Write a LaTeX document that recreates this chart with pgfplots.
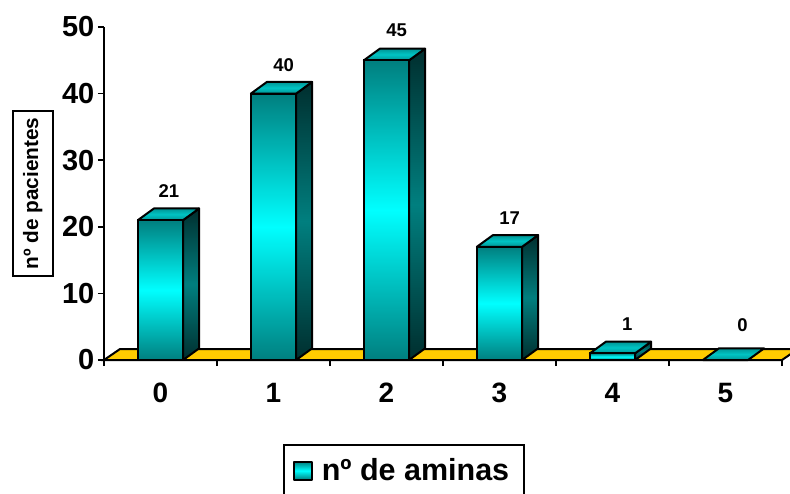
\documentclass[border=0pt]{standalone}
\usepackage{fontspec}
\setmainfont{Liberation Sans}
\usepackage{pgfplots}
\usepackage{pgfplotstable}
\pgfplotsset{compat=1.18}
\definecolor{barteal}{HTML}{007F7F}
\definecolor{barcyan}{HTML}{00FFFF}
\definecolor{bardark}{HTML}{002E2E}
\definecolor{bartopedge}{HTML}{009494}
\definecolor{bartopmid}{HTML}{00C4C4}
\definecolor{floorgold}{HTML}{FFCC00}

% Value labels: horizontal place, height of the text, value shown
\pgfplotstableread{
x     ly     v
0.075 25.4   21
1.09  44.3   40
2.09  49.5   45
3.09  21.3   17
4.13  5.4    1
5.15  5.25   0
}\labeltable

% Depth of the oblique projection, in axis units
\def\ddx{0.1416}
\def\ddy{1.75}

% One box: right side, top face and front face for category #1 with value #2
\newcommand{\boxbar}[2]{%
  \pgfmathsetmacro{\xl}{#1-0.2}%
  \pgfmathsetmacro{\xr}{#1+0.2}%
  \pgfmathsetmacro{\xrb}{\xr+\ddx}%
  \pgfmathsetmacro{\xlb}{\xl+\ddx}%
  \pgfmathsetmacro{\vb}{#2+\ddy}%
  \ifdim #2pt>0pt
    \addplot[draw=black, line width=2pt, line join=round,
      top color=bardark, bottom color=bardark, middle color=barteal]
      coordinates {(\xr,0) (\xrb,\ddy) (\xrb,\vb) (\xr,#2)} --cycle;
  \fi
  \addplot[draw=black, line width=2pt, line join=round,
      top color=bartopedge, bottom color=bartopedge, middle color=bartopmid]
    coordinates {(\xl,#2) (\xlb,\vb) (\xrb,\vb) (\xr,#2)} --cycle;
  \ifdim #2pt>0pt
    \addplot[ybar, bar width=0.4, draw=black, line width=2pt,
      top color=barteal, bottom color=barteal, middle color=barcyan]
      coordinates {(#1,#2)};
  \fi
}

\begin{document}
\begin{tikzpicture}[x=1pt,y=1pt]
\path[use as bounding box] (0,0) rectangle (790,493);
\begin{axis}[
  at={(104pt,133pt)}, anchor=south west,
  scale only axis, width=678pt, height=333pt,
  xmin=-0.5, xmax=5.5, ymin=0, ymax=50,
  clip=false,
  axis lines=left,
  axis line style={-, line width=2pt, black},
  xtick={0,1,2,3,4,5},
  minor xtick={-0.5,0.5,1.5,2.5,3.5,4.5,5.5},
  ytick={0,10,20,30,40,50},
  tick align=outside,
  major tick length=6pt, minor tick length=6pt,
  major x tick style={draw=none},
  minor x tick style={black, line width=1.6pt},
  major y tick style={black, line width=1.6pt},
  /pgf/number format/assume math mode=true,
  yticklabel style={font=\fontsize{29}{29}\selectfont\bfseries, inner sep=0pt, xshift=-3.5pt},
  xticklabel style={font=\fontsize{28}{28}\selectfont\bfseries, inner sep=0pt, yshift=-17pt},
  ylabel={nº de pacientes},
  ylabel style={font=\fontsize{20.8}{20.8}\selectfont\bfseries, draw=black, line width=2pt,
    inner xsep=6pt, inner ysep=10pt, at={(axis description cs:-0.105,0.5)}, anchor=center, rotate=0},
  legend style={at={(rel axis cs:0.2640,-0.4114)}, anchor=south west, draw=black,
    line width=2pt, font=\fontsize{30.5}{30.5}\selectfont\bfseries, inner xsep=9pt, inner ysep=11.5pt},
  legend image code/.code={
    \draw[black, line width=1.8pt, top color=barteal, bottom color=barteal, middle color=barcyan]
      (0pt,-9pt) rectangle (18pt,9pt);},
]
  % Floor of the chart
  \addplot[draw=black, line width=2pt, fill=floorgold, forget plot]
    coordinates {(-0.5,0) (-0.3584,1.65) (5.6416,1.65) (5.5,0)} --cycle;

  \boxbar{0}{21}
  \boxbar{1}{40}
  \boxbar{2}{45}
  \boxbar{3}{17}
  \boxbar{4}{1}
  \boxbar{5}{0}

  % Value labels, taken from the table
  \addplot[only marks, mark=none, forget plot, point meta=explicit symbolic,
    nodes near coords, nodes near coords align=center,
    every node near coord/.append style={font=\fontsize{18.5}{18.5}\selectfont\bfseries, black, anchor=center}]
    table[x=x, y=ly, meta=v] {\labeltable};

  \addlegendimage{area legend}
  \addlegendentry{\hspace{7pt}nº de aminas\rule{4pt}{0pt}}
\end{axis}
\end{tikzpicture}
\end{document}
